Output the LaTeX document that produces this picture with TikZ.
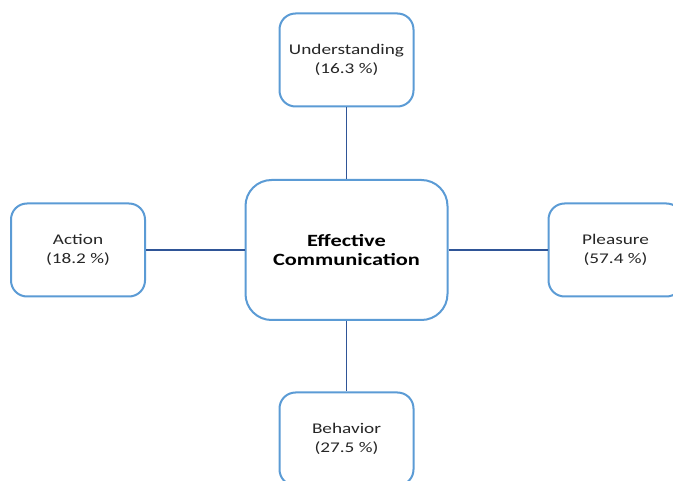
\documentclass[tikz,border=0pt]{standalone}
\usepackage{fontspec}
\setmainfont[FakeStretch=1.3]{Carlito}
\definecolor{boxblue}{HTML}{5B9BD5}
\definecolor{linkblue}{HTML}{2F5597}
\definecolor{txtgray}{HTML}{262626}
\begin{document}
\begin{tikzpicture}[x=1pt,y=-1pt,
  smallbox/.style={draw=boxblue, line width=2pt, fill=white, rounded corners=16pt,
    minimum width=134pt, minimum height=93pt, align=center, inner sep=0pt,
    font=\fontsize{14.8}{19.5}\selectfont, text=txtgray},
  bigbox/.style={draw=boxblue, line width=2pt, fill=white, rounded corners=26pt,
    minimum width=202pt, minimum height=140pt, align=center, inner sep=0pt,
    font=\fontsize{17.2}{19}\selectfont\bfseries, text=black},
  link/.style={draw=linkblue, line width=1.6pt}]
\useasboundingbox (0,0) rectangle (673,481);
\node[bigbox] (c) at (346.5,250) {Effective\\Communication};
\node[smallbox] (u) at (346.5,60) {Understanding\\(16.3 \%)};
\node[smallbox] (a) at (78,250) {Action\\(18.2 \%)};
\node[smallbox] (p) at (615.5,250) {Pleasure\\(57.4 \%)};
\node[smallbox] (b) at (346.5,439) {Behavior\\(27.5 \%)};
\draw[link] (u) -- (c);
\draw[link] (c) -- (b);
\draw[link] (a) -- (c);
\draw[link] (c) -- (p);
\end{tikzpicture}
\end{document}
